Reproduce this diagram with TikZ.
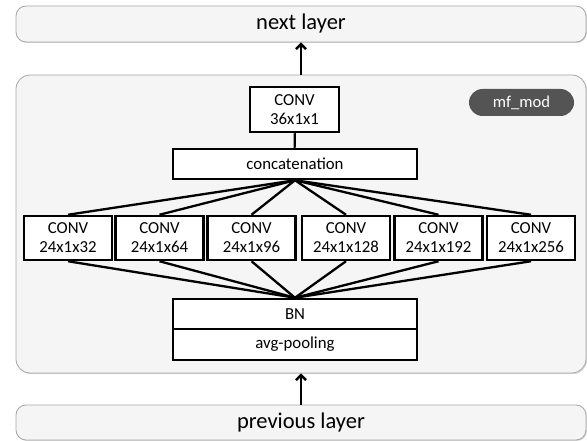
\documentclass[tikz,border=0pt]{standalone}
\usepackage{fontspec}
\setmainfont{Carlito}
\usetikzlibrary{arrows.meta,shadows}

\begin{document}
\begin{tikzpicture}[x=1pt,y=-1pt,>={Straight Barb[length=5pt,width=10pt]},
  layer node/.style={draw=gray!70,line width=0.8pt,fill=gray!8,rounded corners=10pt,minimum width=570pt,
    drop shadow={shadow xshift=1pt,shadow yshift=-1pt,fill=gray!60},font=\fontsize{22.5}{24}\selectfont},
  op node/.style={draw,line width=2.5pt,fill=white,align=center,inner sep=0pt,font=\fontsize{16.8}{19}\selectfont},
  conv node/.style={op node,minimum width=88pt,minimum height=44pt}]
  \useasboundingbox (0,0) rectangle (587,441);

  \node[layer node,minimum height=36pt] (next) at (301,24) {next layer};
  \node[layer node,minimum height=298pt,rounded corners=14pt] (mod) at (301,224) {};
  \node[layer node,minimum height=35pt] (prev) at (301,422.5) {previous layer};

  \node[fill=black!67,text=white,rounded corners=13.5pt,minimum width=105pt,minimum height=27pt,
    font=\fontsize{16.6}{18}\selectfont] (tag) at (521.5,102.5) {mf\_mod};

  \node[op node,minimum width=89pt,minimum height=45pt] (c36) at (294.5,109.5) {CONV\\36x1x1};
  \node[op node,minimum width=244pt,minimum height=30pt] (cat) at (295,164) {concatenation};

  \node[conv node] (c1) at (68,238) {CONV\\24x1x32};
  \node[conv node] (c2) at (159.5,238) {CONV\\24x1x64};
  \node[conv node] (c3) at (251.5,238) {CONV\\24x1x96};
  \node[conv node] (c4) at (346,238) {CONV\\24x1x128};
  \node[conv node] (c5) at (438.5,238) {CONV\\24x1x192};
  \node[conv node] (c6) at (531,238) {CONV\\24x1x256};

  \node[op node,minimum width=244pt,minimum height=30pt] (bn) at (295,314) {BN};
  \node[op node,minimum width=244pt,minimum height=31pt] (pool) at (295,344.5) {avg-pooling};

\path[line width=2.3pt]
  (c36) edge (cat)
  (cat.south) edge (c1.north)
  (cat.south) edge (c2.north)
  (cat.south) edge (c3.north)
  (cat.south) edge (c4.north)
  (cat.south) edge (c5.north)
  (cat.south) edge (c6.north)
  (c1.south) edge (bn.north)
  (c2.south) edge (bn.north)
  (c3.south) edge (bn.north)
  (c4.south) edge (bn.north)
  (c5.south) edge (bn.north)
  (c6.south) edge (bn.north)
;
\path[->,line width=2.5pt]
  (mod.north) edge (next.south)
  (prev.north) edge (mod.south)
;
\end{tikzpicture}
\end{document}
